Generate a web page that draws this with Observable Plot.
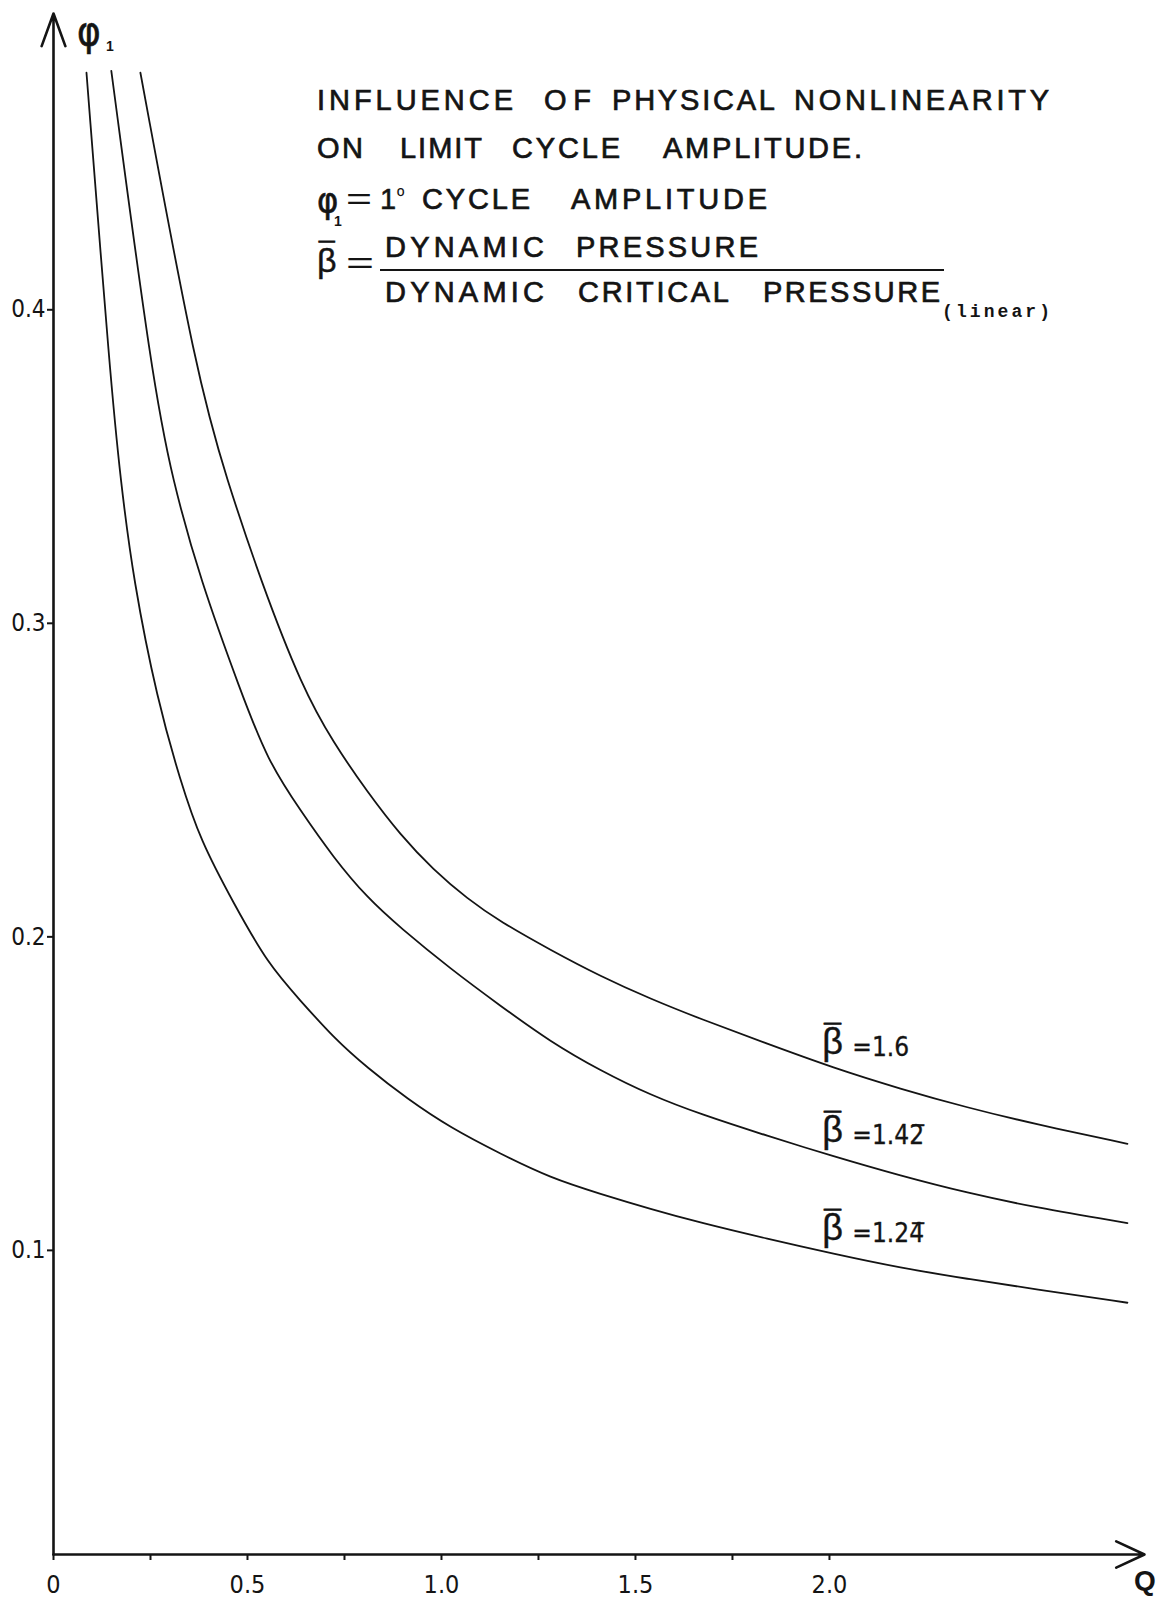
<!DOCTYPE html>
<html>
<head>
<meta charset="utf-8">
<script src="https://cdn.jsdelivr.net/npm/d3@7"></script>
<script src="https://cdn.jsdelivr.net/npm/@observablehq/plot@0.6"></script>
<style>
  html, body { margin: 0; padding: 0; background: #fff; }
  #chart { width: 1164px; height: 1601px; }
</style>
</head>
<body>
<div id="chart"></div>
<script>
// ---------------- DATA ----------------
const seriesBeta = ["1.24\u0305", "1.42\u0305", "1.6"];

// beta = 1.24̄ (lowest curve)
const qA   = [0.085, 0.147, 0.173, 0.206, 0.268, 0.327, 0.379, 0.464, 0.552, 0.637, 0.722, 0.809, 0.912, 1.023, 1.152, 1.281, 1.410, 1.539, 1.668, 1.840, 2.010, 2.183, 2.356, 2.526, 2.768];
const phiA = [0.4756, 0.3774, 0.3455, 0.3136, 0.2753, 0.2498, 0.2306, 0.2108, 0.1914, 0.1796, 0.1678, 0.1582, 0.1483, 0.1391, 0.1308, 0.1231, 0.1180, 0.1132, 0.1088, 0.1037, 0.0989, 0.0944, 0.0909, 0.0877, 0.0833];

// beta = 1.42̄ (middle curve)
const qB   = [0.149, 0.255, 0.307, 0.379, 0.482, 0.552, 0.637, 0.722, 0.809, 0.894, 1.023, 1.152, 1.281, 1.410, 1.539, 1.668, 1.840, 2.010, 2.183, 2.356, 2.526, 2.768];
const phiB = [0.4762, 0.3774, 0.3455, 0.3136, 0.2785, 0.2561, 0.2402, 0.2252, 0.2124, 0.2029, 0.1898, 0.1780, 0.1665, 0.1573, 0.1495, 0.1434, 0.1365, 0.1300, 0.1238, 0.1183, 0.1138, 0.1087];

// beta = 1.6 (upper curve)
const qC   = [0.224, 0.371, 0.448, 0.534, 0.641, 0.722, 0.809, 0.894, 0.979, 1.067, 1.152, 1.281, 1.410, 1.539, 1.668, 1.840, 2.010, 2.183, 2.356, 2.526, 2.768];
const phiC = [0.4756, 0.3774, 0.3455, 0.3136, 0.2795, 0.2618, 0.2462, 0.2325, 0.2214, 0.2121, 0.2048, 0.1958, 0.1874, 0.1802, 0.1738, 0.1659, 0.1582, 0.1515, 0.1455, 0.1404, 0.1340];

const labelQ = 2.010;   // curve labels sit above the curve point at this Q

const xTickValues = [0, 0.25, 0.5, 0.75, 1.0, 1.25, 1.5, 1.75, 2.0];
const xTickLabels = ["0", "", "0.5", "", "1.0", "", "1.5", "", "2.0"];
const yTickValues = [0.1, 0.2, 0.3, 0.4];
const yTickLabels = ["0.1", "0.2", "0.3", "0.4"];

const xDomain = [0, 2.812];
const yDomain = [0.003, 0.4945];

// ---------------- build table ----------------
const rows = [];
[[qA, phiA], [qB, phiB], [qC, phiC]].forEach(([qs, ps], i) => {
  qs.forEach((q, j) => rows.push({beta: seriesBeta[i], q, phi: ps[j]}));
});
const labelRows = rows.filter(d => d.q === labelQ);

const INK = "#141414";
const narrow = "'Liberation Sans Narrow', 'DejaVu Sans Condensed', 'Liberation Sans', sans-serif";
const sans = "'Liberation Sans', Arial, sans-serif";

const chart = Plot.plot({
  width: 1164,
  height: 1601,
  marginLeft: 53,
  marginRight: 20,
  marginTop: 13,
  marginBottom: 47,
  x: {domain: xDomain},
  y: {domain: yDomain},
  style: {background: "#fff", color: INK, fontFamily: narrow, fontSize: "24px"},
  marks: [
    Plot.axisX({
      ticks: xTickValues,
      tickFormat: d => xTickLabels[xTickValues.indexOf(d)],
      tickSize: 6, tickPadding: 15, strokeWidth: 2,
      fontSize: 25, label: null
    }),
    Plot.axisY({
      ticks: yTickValues,
      tickFormat: d => yTickLabels[yTickValues.indexOf(d)],
      tickSize: 6, tickPadding: 2, strokeWidth: 2,
      fontSize: 24, label: null
    }),
    // axes with arrowheads
    Plot.arrow([{x1: xDomain[0], y1: yDomain[0], x2: xDomain[0], y2: yDomain[1]}],
      {x1: "x1", y1: "y1", x2: "x2", y2: "y2", stroke: INK, strokeWidth: 2.6, headLength: 20, headAngle: 40}),
    Plot.arrow([{x1: xDomain[0], y1: yDomain[0], x2: xDomain[1], y2: yDomain[0]}],
      {x1: "x1", y1: "y1", x2: "x2", y2: "y2", stroke: INK, strokeWidth: 2.6, headLength: 18, headAngle: 50}),
    // curves
    Plot.line(rows, {x: "q", y: "phi", z: "beta", curve: "basis", stroke: INK, strokeWidth: 1.8}),
    // curve labels: β, its bar, and "=value"
    Plot.text(labelRows, {x: "q", y: "phi", text: () => "\u03B2", textAnchor: "start", lineAnchor: "bottom",
      dx: -11, dy: -14, fontSize: 36, fontFamily: sans, fill: INK, stroke: INK, strokeWidth: 0.4}),
    Plot.text(labelRows, {x: "q", y: "phi", text: () => "\u00AF", textAnchor: "start", lineAnchor: "bottom",
      dx: -9, dy: -23, fontSize: 30, fontFamily: sans, fill: INK, stroke: INK, strokeWidth: 1}),
    Plot.text(labelRows, {x: "q", y: "phi", text: d => "=" + d.beta, textAnchor: "start", lineAnchor: "bottom",
      dx: 19, dy: -12, fontSize: 26, fontFamily: narrow, fill: INK, stroke: INK, strokeWidth: 0.3})
  ]
});

document.getElementById("chart").appendChild(chart);

// ---------------- annotations (title block, axis names) ----------------
const svg = d3.select(chart);
const g = svg.append("g").attr("fill", INK).attr("text-anchor", "start");

function put(str, x, y, size, opts = {}) {
  const t = g.append("text")
    .attr("x", x).attr("y", y)
    .attr("text-anchor", "start")
    .attr("font-size", size)
    .attr("font-family", opts.family || sans)
    .attr("font-weight", opts.weight || "normal")
    .text(str);
  if (opts.len) t.attr("textLength", opts.len).attr("lengthAdjust", opts.adjust || "spacing");
  if (opts.stroke) t.attr("stroke", INK).attr("stroke-width", opts.stroke);
  return t;
}

// y-axis name φ1
put("\u03C6", 77, 45, 40, {family: narrow, stroke: 0.6});
put("1", 106, 51, 14, {weight: "bold"});

// Q axis name
put("Q", 1134, 1590, 28, {weight: "bold"});

// title block: [word, left, right]
const titleLines = [
  {y: 110, size: 29, words: [["INFLUENCE", 317, 513], ["OF", 544, 591], ["PHYSICAL", 612, 775], ["NONLINEARITY", 794, 1049]]},
  {y: 158, size: 29, words: [["ON", 317, 363], ["LIMIT", 400, 482], ["CYCLE", 512, 620], ["AMPLITUDE.", 663, 862]]},
  {y: 209, size: 29, words: [["CYCLE", 422, 530], ["AMPLITUDE", 571, 767]]},
  {y: 257, size: 29, words: [["DYNAMIC", 385, 544], ["PRESSURE", 576, 758]]},
  {y: 302, size: 29, words: [["DYNAMIC", 385, 544], ["CRITICAL", 578, 729], ["PRESSURE", 763, 940]]}
];
titleLines.forEach(line => {
  line.words.forEach(([w, x0, x1]) => put(w, x0, line.y, line.size, {len: x1 - x0, stroke: 0.7}));
});

// φ1 = 1º
put("\u03C6", 317, 213, 36, {family: narrow, stroke: 0.6});
put("1", 334, 226, 14, {weight: "bold"});
put("=", 346, 209, 29, {len: 26, adjust: "spacingAndGlyphs"});
put("1", 380, 209, 29, {stroke: 0.5});
put("\u00BA", 397, 203, 20);

// β̄ = fraction
put("\u03B2", 317, 272, 34, {stroke: 0.4});
put("\u00AF", 319, 262, 28, {stroke: 1});
put("=", 346, 273, 29, {len: 28, adjust: "spacingAndGlyphs"});
g.append("line").attr("x1", 380).attr("x2", 944).attr("y1", 270).attr("y2", 270)
  .attr("stroke", INK).attr("stroke-width", 2);
put("(linear)", 942, 317, 18, {family: "'Liberation Mono', 'DejaVu Sans Mono', monospace", weight: "bold", len: 108});
</script>
</body>
</html>
